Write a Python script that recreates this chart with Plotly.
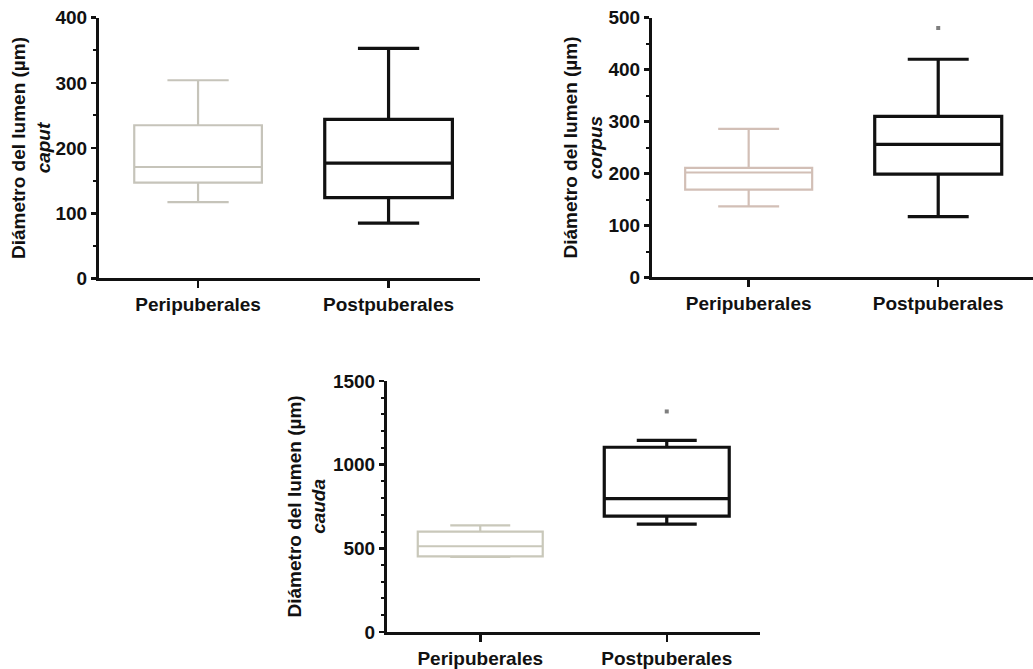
import plotly.graph_objects as go

categories = ["Peripuberales", "Postpuberales"]

# caput
caput_low = [117, 85]
caput_q1 = [147, 124]
caput_med = [171, 177]
caput_q3 = [235, 244]
caput_high = [304, 353]

# corpus
corpus_low = [137, 117]
corpus_q1 = [169, 199]
corpus_med = [202, 256]
corpus_q3 = [211, 310]
corpus_high = [286, 420]
corpus_out_x = ["Postpuberales"]
corpus_out_y = [480]

# cauda
cauda_low = [448, 644]
cauda_q1 = [452, 692]
cauda_med = [512, 797]
cauda_q3 = [600, 1104]
cauda_high = [637, 1145]
cauda_out_x = ["Postpuberales"]
cauda_out_y = [1318]

peri_colors = ["#c6c4ba", "#d2bfb6", "#c9c8ba"]
post_color = "#111111"
FONT = "Liberation Sans, Arial, sans-serif"

fig = go.Figure()

panels = [
    (caput_low, caput_q1, caput_med, caput_q3, caput_high, "x", "y"),
    (corpus_low, corpus_q1, corpus_med, corpus_q3, corpus_high, "x2", "y2"),
    (cauda_low, cauda_q1, cauda_med, cauda_q3, cauda_high, "x3", "y3"),
]
for p, (lo, q1, md, q3, hi, xa, ya) in enumerate(panels):
    for i, cat in enumerate(categories):
        post = i == 1
        fig.add_trace(go.Box(
            x=[cat], lowerfence=[lo[i]], q1=[q1[i]], median=[md[i]],
            q3=[q3[i]], upperfence=[hi[i]],
            xaxis=xa, yaxis=ya, boxpoints=False,
            fillcolor="rgba(255,255,255,0)",
            line=dict(color=post_color if post else peri_colors[p],
                      width=3.2 if post else 2.2),
            whiskerwidth=0.48, width=0.67, showlegend=False,
            hoverinfo="skip",
        ))

fig.add_trace(go.Scatter(x=corpus_out_x, y=corpus_out_y, mode="markers",
                         xaxis="x2", yaxis="y2", showlegend=False,
                         marker=dict(symbol="square", size=4, color="#7f7f7f")))
fig.add_trace(go.Scatter(x=cauda_out_x, y=cauda_out_y, mode="markers",
                         xaxis="x3", yaxis="y3", showlegend=False,
                         marker=dict(symbol="square", size=4, color="#7f7f7f")))

W, H = 1033, 669


def xaxis(d, rng, anchor):
    return dict(domain=d, range=rng, anchor=anchor, type="category",
                categoryorder="array", categoryarray=categories,
                showline=True, linecolor="#111", linewidth=3,
                ticks="outside", ticklen=7, tickwidth=2.5, tickcolor="#111",
                showgrid=False, zeroline=False, fixedrange=True,
                tickfont=dict(family=FONT, size=19, color="#111", weight="bold"))


def yaxis(d, rng, dtick, minor, anchor):
    return dict(domain=d, range=rng, anchor=anchor,
                showline=True, linecolor="#111", linewidth=3,
                ticks="outside", ticklen=5, tickwidth=2.5, tickcolor="#111",
                dtick=dtick, tick0=0, showgrid=False, zeroline=False,
                fixedrange=True,
                minor=dict(ticks="outside", dtick=minor, ticklen=3,
                           tickwidth=2, tickcolor="#111", showgrid=False),
                tickfont=dict(family=FONT, size=19, color="#111", weight="bold"))


def py(pix):
    return 1 - ((pix - 9.3) / 0.97) / H


def px(pix):
    return (pix + 2) / W


fig.update_layout(
    width=W, height=H,
    margin=dict(l=0, r=0, t=0, b=0),
    paper_bgcolor="white", plot_bgcolor="white",
    xaxis=xaxis([px(97), px(478)], [-0.52, 1.48], "y"),
    yaxis=yaxis([py(279), py(17)], [0, 400], 100, 50, "x"),
    xaxis2=xaxis([px(650), 1.0], [-0.51, 1.5], "y2"),
    yaxis2=yaxis([py(278), py(17)], [0, 500], 100, 50, "x2"),
    xaxis3=xaxis([px(385), px(758)], [-0.5, 1.5], "y3"),
    yaxis3=yaxis([py(634), py(382)], [0, 1500], 500, 100, "x3"),
    boxgap=0.33,
)

titles = [("caput", 29, (17 + 279) / 2), ("corpus", 581, (17 + 278) / 2),
          ("cauda", 305, (382 + 634) / 2)]
for name, xc, yc in titles:
    fig.add_annotation(
        text="Diámetro del lumen (µm)<br><i>" + name + "</i>",
        x=px(xc), y=py(yc), xref="paper", yref="paper",
        xanchor="center", yanchor="middle", textangle=-90, showarrow=False,
        font=dict(family=FONT, size=19, color="#111", weight="bold"),
    )

fig.write_html(
    "out.html",
    config={"displayModeBar": False, "staticPlot": True},
    post_script="document.body.style.margin='0';document.body.style.overflow='hidden';",
)
